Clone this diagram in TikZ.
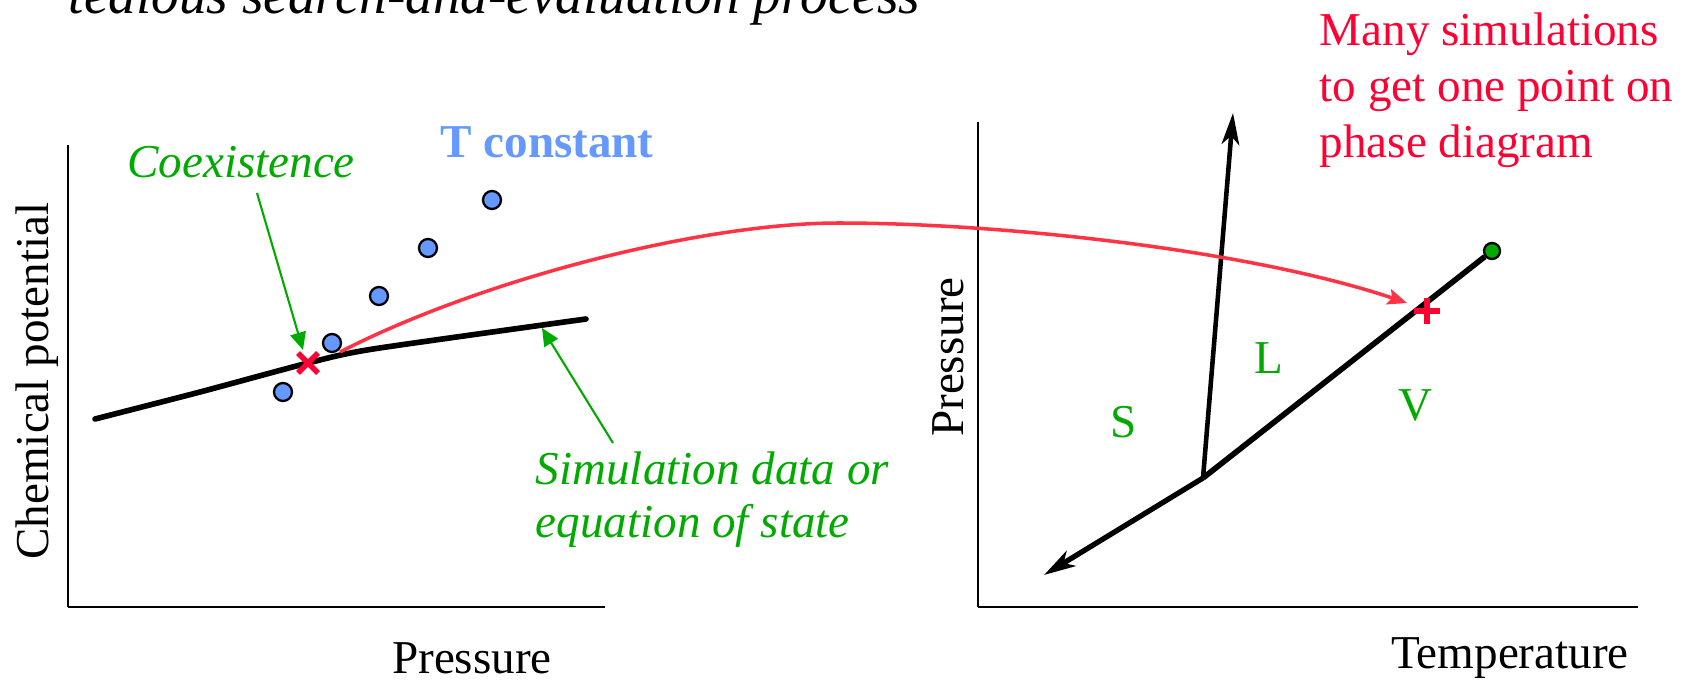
\documentclass[tikz,border=0pt]{standalone}
\usepackage{fontspec}
\setmainfont{Liberation Serif}
\usepackage{xcolor}
\definecolor{ptgreen}{RGB}{0,170,0}
\definecolor{ptblue}{RGB}{102,153,255}
\definecolor{ptred}{RGB}{255,0,51}
\definecolor{ptcurve}{RGB}{255,51,68}
\usetikzlibrary{arrows.meta,positioning,calc}
\tikzset{
  lbl/.style={font=\fontsize{13.4}{15.9}\selectfont, inner sep=0pt},
  axis/.style={line width=0.55pt},
  xaxis/.style={line width=0.75pt},
  datadot/.style={circle, draw=black, line width=0.65pt, fill=ptblue, minimum size=0.18cm, inner sep=0pt},
  note/.style={draw=ptgreen, line width=0.6pt, -{Triangle[length=5pt,width=4.5pt]}},
  phase/.style={line width=1.5pt, -{Stealth[length=9pt,width=5pt,inset=2.5pt]}},
  ptmark/.style={ptred, line width=1.6pt},
}

\begin{document}
\begin{tikzpicture}[x=0.01cm, y=-0.01cm]
  \useasboundingbox (0,0) rectangle (1695,679);

  % title, cut off at the top
  \node[lbl, font=\fontsize{15.7}{18}\selectfont\itshape, anchor=base west] (title) at (68,14) {tedious search-and-evaluation process};

  % Left plot: chemical potential vs pressure
  \draw[axis] (68,145) -- (68,607);
  \draw[xaxis] (68,607) -- (605,607);
  \node[lbl, rotate=90, anchor=base] (muaxis) at (48,381) {Chemical potential};
  \node[lbl, anchor=base] (paxis) at (472,673) {Pressure};

  \draw[line width=1.6pt, line cap=round, line join=round] plot[smooth, tension=0.4] coordinates {(95,419) (200,392) (308,363) (373,349) (586,319)};

  \node[datadot] (d1) at (283,392) {};
  \node[datadot] (d2) at (332,343) {};
  \node[datadot] (d3) at (379,296) {};
  \node[datadot] (d4) at (428,248) {};
  \node[datadot] (d5) at (492,200) {};
  \node[lbl, font=\fontsize{13.4}{15.9}\selectfont\bfseries, text=ptblue, anchor=base] (tconst) at (547,157) {T constant};

  \coordinate (coex) at (308,363);
  \draw[ptmark] ($(coex)+(-10,-10)$) -- ($(coex)+(10,10)$) ($(coex)+(-10,10)$) -- ($(coex)+(10,-10)$);

  \node[lbl, font=\fontsize{13.4}{15.9}\selectfont\itshape, text=ptgreen, anchor=base] (coexlbl) at (241,177) {Coexistence};
  \coordinate (coexfrom) at (257,193);
  \coordinate (coexto) at (303,350);
  \draw[note] (coexfrom) -- (coexto);

  \node[lbl, font=\fontsize{13.4}{14.8}\selectfont\itshape, text=ptgreen, align=left, anchor=base west] (simlbl) at (535,537) {Simulation data or\\equation of state};
  \coordinate (simfrom) at (613,443);
  \coordinate (simto) at (542,328);
  \draw[note] (simfrom) -- (simto);

  % Right plot: pressure vs temperature
  \draw[axis] (978,122) -- (978,607);
  \draw[xaxis] (978,607) -- (1638,607);
  \node[lbl, rotate=90, anchor=base] (paxis2) at (963,357) {Pressure};
  \node[lbl, anchor=base] (taxis) at (1510,668) {Temperature};

  \coordinate (triple) at (1203,478);
  \coordinate (melt) at (1233,113);
  \coordinate (subl) at (1044,575);
  \node[circle, draw=black, line width=0.65pt, fill=ptgreen, minimum size=0.16cm, inner sep=0pt] (crit) at (1492,251) {};
  \draw[phase, line width=1.3pt] (triple) -- (melt);
  \draw[phase] (triple) -- (subl);
  \draw[line width=1.6pt] (triple) -- (crit);

  \node[lbl, text=ptgreen, anchor=base] (S) at (1124,437) {S};
  \node[lbl, text=ptgreen, anchor=base] (L) at (1269,373) {L};
  \node[lbl, text=ptgreen, anchor=base] (V) at (1415,420) {V};

  \coordinate (point) at (1427,311);
  \draw[ptmark, line width=1.7pt] ($(point)+(-13,0)$) -- ($(point)+(13,0)$) ($(point)+(0,-13)$) -- ($(point)+(0,13)$);

  \node[lbl, text=ptred, align=left, anchor=base west, font=\fontsize{13.4}{15.9}\selectfont] (many) at (1319,157) {Many simulations\\to get one point on\\phase diagram};

  % one point carried over
  \coordinate (curvestart) at (340,352);
  \coordinate (peak) at (839,223);
  \coordinate (curveend) at (1407,303);
  \draw[ptcurve, line width=1pt, -{Stealth[length=5.5pt,width=4.5pt,inset=1pt]}] (curvestart) .. controls (480,280) and (700,223) .. (peak) .. controls (1000,223) and (1250,250) .. (curveend);
\end{tikzpicture}
\end{document}
